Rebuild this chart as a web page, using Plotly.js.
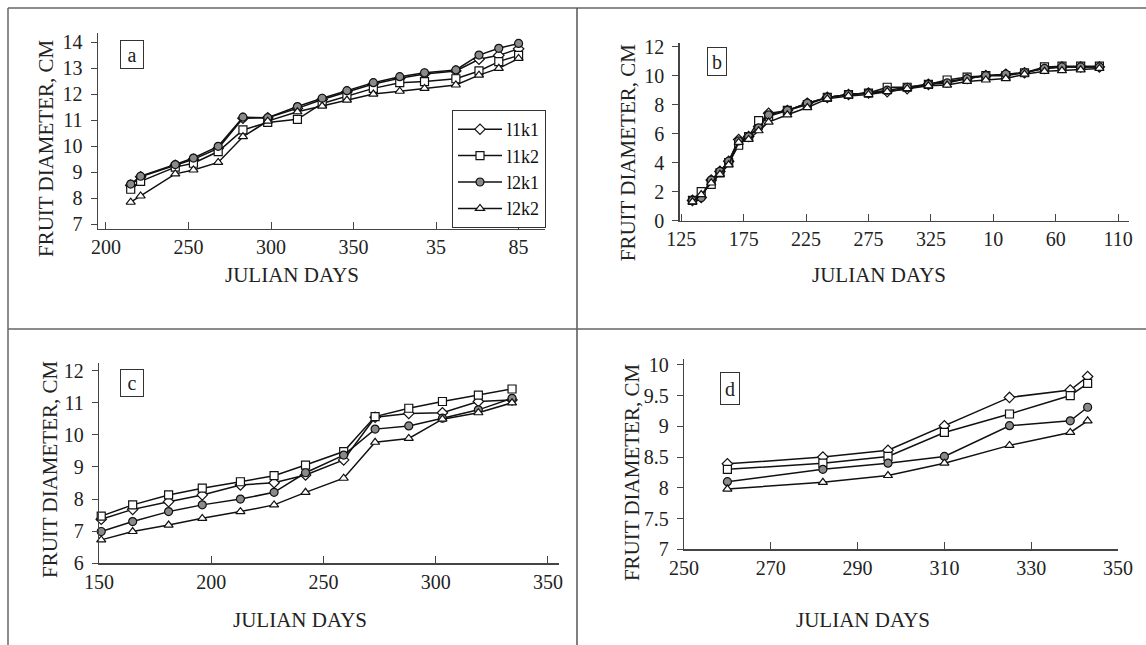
<!DOCTYPE html>
<html>
<head>
<meta charset="utf-8">
<script src="https://cdn.plot.ly/plotly-3.0.1.min.js"></script>
<style>html,body{margin:0;padding:0;background:#fff;}#chart{width:1146px;height:645px;}</style>
</head>
<body>
<div id="chart"></div>
<script>
// ---------- data ----------
const seriesNames = ['l1k1', 'l1k2', 'l2k1', 'l2k2'];

// Panel a (days continue past 365)
const daysA = [215,221,242,253,268,283,298,316,331,346,362,378,393,412,426,438,450];
const aL1K1 = [8.5,8.83,9.27,9.5,9.92,11.08,11.1,11.46,11.8,12.1,12.4,12.62,12.78,12.9,13.35,13.5,13.75];
const aL1K2 = [8.35,8.65,9.2,9.35,9.8,10.63,10.92,11.04,11.65,11.94,12.23,12.45,12.49,12.6,12.9,13.26,13.5];
const aL2K1 = [8.55,8.85,9.3,9.55,10.0,11.12,11.1,11.53,11.85,12.14,12.45,12.68,12.83,12.94,13.51,13.77,13.96];
const aL2K2 = [7.85,8.09,8.94,9.09,9.38,10.37,10.97,11.33,11.55,11.78,12.01,12.12,12.23,12.36,12.74,13.0,13.38];
const aTickVals = [200,250,300,350,400,450];
const aTickText = ['200','250','300','350','35','85'];

// Panel b
const daysB = [134,141,149,156,163,171,179,187,195,210,226,242,259,275,290,306,323,338,354,369,385,400,416,430,445,460];
const bL1K1 = [1.4,1.6,2.8,3.4,4.1,5.6,5.8,6.5,7.4,7.6,8.1,8.5,8.7,8.8,8.9,9.1,9.4,9.6,9.8,10.0,10.1,10.2,10.5,10.6,10.6,10.6];
const bL1K2 = [1.4,2.0,2.5,3.3,4.0,5.2,5.8,6.9,7.2,7.6,8.0,8.5,8.7,8.8,9.2,9.2,9.4,9.7,9.9,10.0,10.0,10.2,10.6,10.65,10.65,10.65];
const bL2K1 = [1.4,1.6,2.8,3.4,4.1,5.5,5.8,6.4,7.3,7.6,8.1,8.5,8.7,8.8,9.0,9.2,9.4,9.5,9.8,10.0,10.1,10.2,10.5,10.6,10.6,10.6];
const bL2K2 = [1.3,1.8,2.6,3.2,3.85,5.4,5.6,6.2,6.8,7.3,7.8,8.4,8.6,8.7,8.9,9.1,9.3,9.35,9.6,9.7,9.8,10.1,10.3,10.35,10.4,10.5];
const bTickVals = [125,175,225,275,325,375,425,475];
const bTickText = ['125','175','225','275','325','10','60','110'];

// Panel c
const daysC = [151,165,181,196,213,228,242,259,273,288,303,319,334];
const cL1K1 = [7.37,7.68,7.92,8.13,8.44,8.51,8.75,9.22,10.55,10.67,10.69,11.04,11.09];
const cL1K2 = [7.47,7.82,8.13,8.34,8.54,8.73,9.06,9.48,10.57,10.83,11.04,11.24,11.43];
const cL2K1 = [6.99,7.3,7.61,7.82,8.0,8.21,8.82,9.37,10.18,10.28,10.52,10.78,11.14];
const cL2K2 = [6.73,6.99,7.19,7.4,7.61,7.82,8.21,8.65,9.77,9.89,10.49,10.69,11.0];
const cTickVals = [150,200,250,300,350];

// Panel d
const daysD = [260,282,297,310,325,339,343];
const dL1K1 = [8.39,8.5,8.61,9.01,9.47,9.59,9.81];
const dL1K2 = [8.3,8.4,8.51,8.9,9.2,9.5,9.7];
const dL2K1 = [8.1,8.3,8.4,8.51,9.01,9.09,9.31];
const dL2K2 = [7.98,8.09,8.2,8.4,8.69,8.9,9.09];
const dTickVals = [250,270,290,310,330,350];

const yTitle = 'FRUIT DIAMETER, CM';
const xTitle = 'JULIAN DAYS';
const panelLabels = ['a','b','c','d'];

// ---------- styling ----------
const W = 1146, H = 645;
const FONT = 'Liberation Serif, Times New Roman, serif';
const markerStyles = [
  {symbol:'diamond', size:8, color:'#ffffff', line:{color:'#111', width:1.2}},
  {symbol:'square', size:8, color:'#ffffff', line:{color:'#111', width:1.2}},
  {symbol:'circle', size:8, color:'#8a8a8a', line:{color:'#111', width:1.2}},
  {symbol:'triangle-up', size:8, color:'#ffffff', line:{color:'#111', width:1.2}}
];
const px = v => v / W;
const py = v => 1 - v / H;

const panels = [
  {days: daysA, ys: [aL1K1,aL1K2,aL2K1,aL2K2], xa:'x', ya:'y', legend:true},
  {days: daysB, ys: [bL1K1,bL1K2,bL2K1,bL2K2], xa:'x2', ya:'y2', legend:false},
  {days: daysC, ys: [cL1K1,cL1K2,cL2K1,cL2K2], xa:'x3', ya:'y3', legend:false},
  {days: daysD, ys: [dL1K1,dL1K2,dL2K1,dL2K2], xa:'x4', ya:'y4', legend:false}
];

const traces = [];
panels.forEach(p => {
  p.ys.forEach((yv, i) => {
    traces.push({
      type:'scatter', mode:'lines+markers',
      x: p.days, y: yv, name: seriesNames[i],
      xaxis: p.xa, yaxis: p.ya, showlegend: p.legend,
      line:{color:'#111', width:1.5},
      marker: markerStyles[i], cliponaxis:false
    });
  });
});

function xax(domPx, range, tickvals, ticktext) {
  const o = {domain:[px(domPx[0]), px(domPx[1])], range: range, tickmode:'array', tickvals: tickvals,
    showline:true, linecolor:'#444', linewidth:1.2, ticks:'inside', ticklen:7, tickcolor:'#444',
    showgrid:false, zeroline:false, tickfont:{family:FONT, size:20, color:'#222'}, fixedrange:true};
  if (ticktext) o.ticktext = ticktext;
  return o;
}
function yax(domPx, range, dtick, anchor) {
  return {domain:[py(domPx[1]), py(domPx[0])], range: range, dtick: dtick, tick0: 0, anchor: anchor,
    showline:true, linecolor:'#444', linewidth:1.2, ticks:'outside', ticklen:6, tickcolor:'#444',
    ticklabelstandoff:4,
    showgrid:false, zeroline:false, tickfont:{family:FONT, size:20, color:'#222'}, fixedrange:true};
}

const layout = {
  width: W, height: H, margin:{l:0,r:0,t:0,b:0}, paper_bgcolor:'#fff', plot_bgcolor:'rgba(0,0,0,0)',
  font:{family:FONT, color:'#222'},
  xaxis: Object.assign(xax([97.7,545],[195,466],aTickVals,aTickText), {anchor:'y'}),
  yaxis: yax([33,229],[6.82,14.36],1,'x'),
  xaxis2: Object.assign(xax([679.5,1129],[123.6,483.7],bTickVals,bTickText), {anchor:'y2'}),
  yaxis2: yax([43.3,220.7],[0,12.23],2,'x2'),
  xaxis3: Object.assign(xax([99,558.5],[150,354.7],cTickVals), {anchor:'y3'}),
  yaxis3: yax([363.3,563.3],[6,12.23],1,'x3'),
  xaxis4: Object.assign(xax([684,1118],[250,350],dTickVals), {anchor:'y4'}),
  yaxis4: yax([359.3,549.3],[7,10.09],0.5,'x4'),
  showlegend:true,
  legend:{x:px(452), y:py(110), xanchor:'left', yanchor:'top', bordercolor:'#333', borderwidth:1,
    bgcolor:'#fff', font:{family:FONT, size:18, color:'#111'}, tracegroupgap:0, itemwidth:44},
  shapes:[
    {type:'line', xref:'paper', yref:'paper', x0:px(8), x1:1, y0:py(8), y1:py(8), line:{color:'#666', width:1.5}},
    {type:'line', xref:'paper', yref:'paper', x0:px(8), x1:px(8), y0:0, y1:py(8), line:{color:'#666', width:1.5}},
    {type:'line', xref:'paper', yref:'paper', x0:px(577), x1:px(577), y0:0, y1:py(8), line:{color:'#555', width:1.5}},
    {type:'line', xref:'paper', yref:'paper', x0:px(8), x1:1, y0:py(329), y1:py(329), line:{color:'#666', width:1.5}}
  ],
  annotations:[]
};

// axis titles
const xTitlePos = [[292.3,275],[878.5,275],[299.6,620],[862.7,620]];
const yTitlePos = [[46.7,148.3],[628.8,152.5],[50,469],[631.4,471.7]];
xTitlePos.forEach(p => layout.annotations.push({text:xTitle, xref:'paper', yref:'paper', x:px(p[0]), y:py(p[1]),
  xanchor:'center', yanchor:'middle', showarrow:false, font:{family:FONT, size:21, color:'#222'}}));
yTitlePos.forEach(p => layout.annotations.push({text:yTitle, xref:'paper', yref:'paper', x:px(p[0]), y:py(p[1]),
  xanchor:'center', yanchor:'middle', textangle:-90, showarrow:false, font:{family:FONT, size:21, color:'#222'}}));

// panel label boxes
const labelPos = [[131.5,54.5,22,27],[716.7,61.5,18,27],[131.5,383,22,26],[729.8,388.3,18,31]];
labelPos.forEach((p, i) => layout.annotations.push({text:panelLabels[i], xref:'paper', yref:'paper', x:px(p[0]), y:py(p[1]),
  xanchor:'center', yanchor:'middle', showarrow:false, width:p[2], height:p[3], borderpad:0,
  bordercolor:'#333', borderwidth:1, bgcolor:'#fff', font:{family:FONT, size:20, color:'#222'}}));

Plotly.newPlot('chart', traces, layout, {staticPlot:true, displayModeBar:false});
</script>
</body>
</html>
